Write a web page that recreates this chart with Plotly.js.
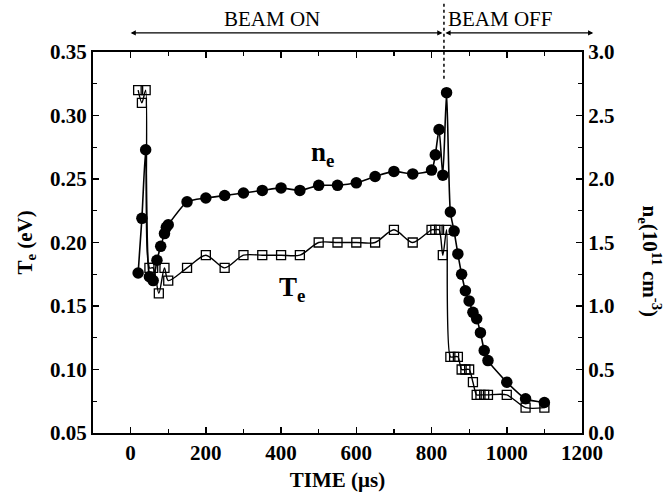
<!DOCTYPE html>
<html>
<head>
<meta charset="utf-8">
<script src="https://cdn.plot.ly/plotly-3.0.1.min.js"></script>
<style>html,body{margin:0;padding:0;background:#fff;}#chart{width:672px;height:496px;}</style>
</head>
<body>
<div id="chart"></div>
<script>
// Electron density n_e (10^11 cm^-3) vs time (µs)
const neTime = [20,30,40,50,60,70,80,90,95,100,150,200,250,300,350,400,450,500,550,600,650,700,750,800,810,820,830,840,850,860,870,880,890,900,910,920,930,940,950,1000,1050,1100];
const neValues = [1.26,1.69,2.23,1.23,1.20,1.36,1.47,1.57,1.62,1.64,1.82,1.85,1.87,1.89,1.91,1.93,1.91,1.95,1.95,1.97,2.02,2.06,2.04,2.07,2.19,2.39,2.03,2.68,1.74,1.59,1.41,1.25,1.12,1.04,0.95,0.90,0.79,0.65,0.57,0.40,0.27,0.24];
// Electron temperature T_e (eV) vs time (µs)
const teTime = [20,30,40,50,60,75,90,100,150,200,250,300,350,400,450,500,550,600,650,700,750,800,810,820,830,840,850,860,870,880,890,900,910,920,930,940,950,1000,1050,1100];
const teValues = [0.32,0.31,0.32,0.18,0.18,0.16,0.18,0.17,0.18,0.19,0.18,0.19,0.19,0.19,0.19,0.20,0.20,0.20,0.20,0.21,0.20,0.21,0.21,0.21,0.19,0.21,0.11,0.11,0.11,0.10,0.10,0.10,0.09,0.08,0.08,0.08,0.08,0.08,0.07,0.07];
const beamOffTime = 833;
const beamOnStart = 0;
const beamOffEnd = 1230;

const FONT = '"Liberation Serif", "Times New Roman", serif';
const TXT = {family: FONT, size: 21, weight: 'bold', color: '#000'};

const traces = [
  {
    x: teTime, y: teValues, type: 'scatter', mode: 'lines+markers', yaxis: 'y',
    line: {color: '#000', width: 1.4, shape: 'spline', smoothing: 0.8},
    marker: {symbol: 'square-open', size: 9, color: '#000', line: {width: 1.3, color: '#000'}},
    showlegend: false
  },
  {
    x: neTime, y: neValues, type: 'scatter', mode: 'lines+markers', yaxis: 'y2',
    line: {color: '#000', width: 1.6, shape: 'spline', smoothing: 0.6},
    marker: {symbol: 'circle', size: 11.5, color: '#000'},
    showlegend: false
  }
];

const layout = {
  width: 672, height: 496,
  margin: {l: 93, r: 90, t: 52, b: 63},
  paper_bgcolor: '#fff', plot_bgcolor: '#fff',
  font: TXT,
  xaxis: {
    range: [-100, 1200], tick0: 0, dtick: 200,
    ticks: 'inside', ticklen: 6, tickwidth: 1.5, tickcolor: '#000',
    minor: {ticks: 'inside', dtick: 100, ticklen: 4, tickwidth: 1.2, tickcolor: '#000'},
    showline: true, linecolor: '#000', linewidth: 2, mirror: 'ticks',
    showgrid: false, zeroline: false,
    tickfont: TXT,
    title: {text: 'TIME (\u03bcs)', font: TXT, standoff: 8}
  },
  yaxis: {
    range: [0.05, 0.35], tick0: 0.05, dtick: 0.05, tickformat: '.2f',
    ticks: 'inside', ticklen: 6, tickwidth: 1.5, tickcolor: '#000',
    minor: {ticks: 'inside', dtick: 0.025, ticklen: 4, tickwidth: 1.2, tickcolor: '#000'},
    showline: true, linecolor: '#000', linewidth: 2,
    showgrid: false, zeroline: false,
    tickfont: TXT
  },
  yaxis2: {
    overlaying: 'y', side: 'right',
    range: [0, 3.0], tick0: 0, dtick: 0.5, tickformat: '.1f',
    ticks: 'inside', ticklen: 6, tickwidth: 1.5, tickcolor: '#000',
    minor: {ticks: 'inside', dtick: 0.25, ticklen: 4, tickwidth: 1.2, tickcolor: '#000'},
    showline: true, linecolor: '#000', linewidth: 2,
    showgrid: false, zeroline: false,
    tickfont: TXT
  },
  shapes: [
    {type: 'line', xref: 'x', yref: 'paper', x0: beamOffTime, x1: beamOffTime, y0: 0.93, y1: 1.13,
     line: {color: '#000', width: 1.5, dash: 'dot'}}
  ],
  annotations: [
    {xref: 'x', yref: 'paper', x: beamOnStart, y: 1.05, axref: 'x', ayref: 'paper', ax: beamOffTime, ay: 1.05,
     text: '', showarrow: true, arrowhead: 2, startarrowhead: 2, arrowside: 'end+start', arrowsize: 0.8, startarrowsize: 0.8, arrowwidth: 1.3, arrowcolor: '#000'},
    {xref: 'x', yref: 'paper', x: beamOffEnd, y: 1.05, axref: 'x', ayref: 'paper', ax: beamOffTime, ay: 1.05,
     text: '', showarrow: true, arrowhead: 2, startarrowhead: 2, arrowside: 'end+start', arrowsize: 0.8, startarrowsize: 0.8, arrowwidth: 1.3, arrowcolor: '#000'},
    {xref: 'x', yref: 'paper', x: 375, y: 1.087, yanchor: 'middle', text: 'BEAM ON', showarrow: false,
     font: {family: FONT, size: 21, weight: 'normal'}},
    {xref: 'x', yref: 'paper', x: beamOffTime + 6, y: 1.087, xanchor: 'left', yanchor: 'middle', text: 'BEAM OFF', showarrow: false,
     font: {family: FONT, size: 21, weight: 'normal'}},
    {xref: 'x', yref: 'y2', x: 510, y: 2.2, text: 'n<sub>e</sub>', showarrow: false,
     font: {family: FONT, size: 27, weight: 'bold'}},
    {xref: 'x', yref: 'y', x: 430, y: 0.163, text: 'T<sub>e</sub>', showarrow: false,
     font: {family: FONT, size: 27, weight: 'bold'}},
    {xref: 'paper', yref: 'paper', x: -0.139, y: 0.5, xanchor: 'center', yanchor: 'middle', textangle: -90,
     text: 'T<sub>e</sub> (eV)', showarrow: false, font: TXT},
    {xref: 'paper', yref: 'paper', x: 1.139, y: 0.45, xanchor: 'center', yanchor: 'middle', textangle: 90,
     text: 'n<sub>e</sub>(10<sup>11</sup> cm<sup>-3</sup>)', showarrow: false, font: TXT}
  ]
};

Plotly.newPlot('chart', traces, layout, {displayModeBar: false, staticPlot: true});
</script>
</body>
</html>
